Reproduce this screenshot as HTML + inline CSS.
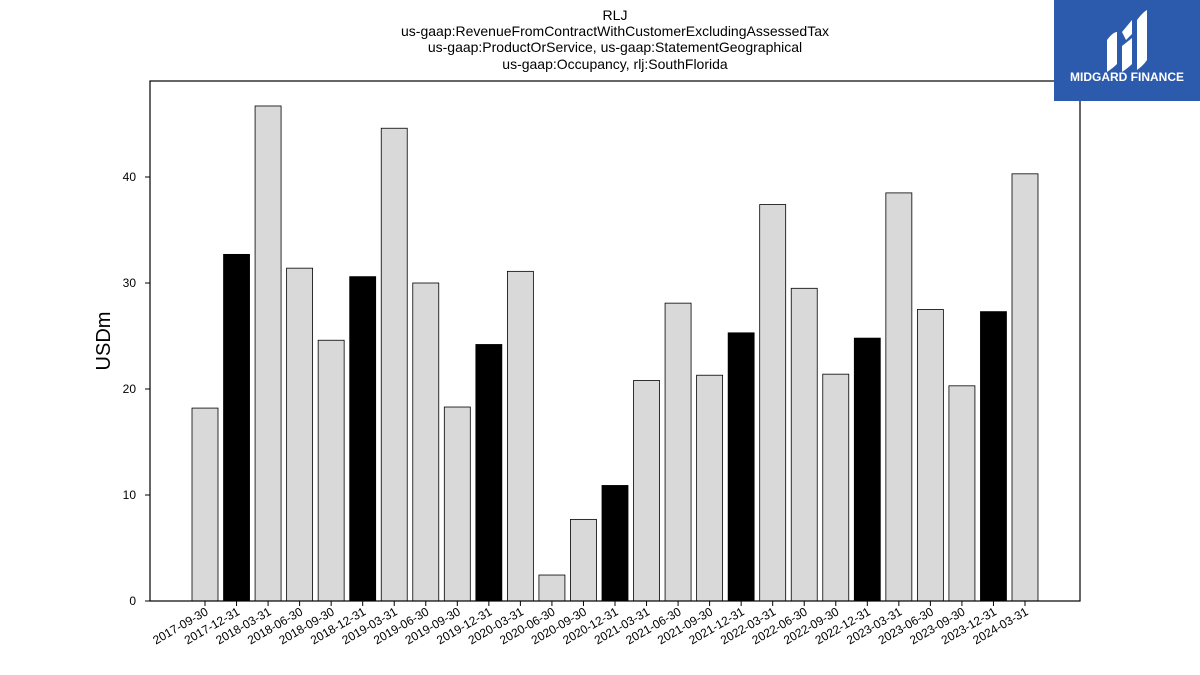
<!DOCTYPE html>
<html><head><meta charset="utf-8"><style>
body{margin:0;background:#fff;font-family:"Liberation Sans","DejaVu Sans",sans-serif;}
#wrap{position:relative;width:1200px;height:675px;overflow:hidden;}
</style></head><body>
<div id="wrap">
<svg id="chart" width="1200" height="675" xmlns="http://www.w3.org/2000/svg">
<g font-size="14" text-anchor="middle" fill="#000">
<text x="615" y="20">RLJ</text>
<text x="615" y="36">us-gaap:RevenueFromContractWithCustomerExcludingAssessedTax</text>
<text x="615" y="52">us-gaap:ProductOrService, us-gaap:StatementGeographical</text>
<text x="615" y="69">us-gaap:Occupancy, rlj:SouthFlorida</text>
</g>
<g id="bars"></g>
<g id="yticks"></g>
<g id="xticks"></g>
<rect x="150" y="81" width="930" height="520" fill="none" stroke="#000" stroke-width="1.2"/>
<text x="110" y="341" font-size="20" text-anchor="middle" transform="rotate(-90 110 341)">USDm</text>
<g>
<rect x="1054" y="0" width="146" height="101" fill="#2c5aac"/>
<path d="M1107 40 q6 -8 10 -8 v32 q-4 4 -10 8z M1122 32 l10 -12 v14 l-6 6z M1122 46 l10 -8 v26 q-4 4 -10 8z M1137 20 q6 -8 10 -10 v50 q-4 6 -10 10z" fill="#fff"/>
<text x="1127" y="81" font-size="12" font-weight="bold" fill="#fff" text-anchor="middle">MIDGARD FINANCE</text>
</g>
</svg>
</div>
<script>
const categories=["2017-09-30","2017-12-31","2018-03-31","2018-06-30","2018-09-30","2018-12-31","2019-03-31","2019-06-30","2019-09-30","2019-12-31","2020-03-31","2020-06-30","2020-09-30","2020-12-31","2021-03-31","2021-06-30","2021-09-30","2021-12-31","2022-03-31","2022-06-30","2022-09-30","2022-12-31","2023-03-31","2023-06-30","2023-09-30","2023-12-31","2024-03-31"];
const values=[18.2,32.7,46.7,31.4,24.6,30.6,44.6,30.0,18.3,24.2,31.1,2.45,7.7,10.9,20.8,28.1,21.3,25.3,37.4,29.5,21.4,24.8,38.5,27.5,20.3,27.3,40.3];
const yTicks=[0,10,20,30,40];
const NS="http://www.w3.org/2000/svg";
const x0=205,step=(1025-205)/26,bw=26;
function xs(i){return x0+i*step;}
function ys(v){return 601-v*10.6;}
const bars=document.getElementById('bars'),xt=document.getElementById('xticks'),yt=document.getElementById('yticks');
categories.forEach((c,i)=>{
 const r=document.createElementNS(NS,'rect');
 
 
 r.setAttribute('x',xs(i)-bw/2);r.setAttribute('y',ys(values[i]));
 r.setAttribute('width',bw);r.setAttribute('height',601-ys(values[i]));
 r.setAttribute('fill',c.endsWith('12-31')?'#000':'#d9d9d9');r.setAttribute('stroke','#000');r.setAttribute('stroke-width','0.8');
 bars.appendChild(r);
 const t=document.createElementNS(NS,'line');
 
 
 t.setAttribute('x1',xs(i));t.setAttribute('x2',xs(i));t.setAttribute('y1',601);t.setAttribute('y2',606);t.setAttribute('stroke','#000');
 xt.appendChild(t);
 const l=document.createElementNS(NS,'text');
 
 
 const lx=xs(i)+4,ly=614;
 l.setAttribute('x',lx);l.setAttribute('y',ly);l.setAttribute('font-size','12');l.setAttribute('text-anchor','end');
 l.setAttribute('transform','rotate(-30 '+lx+' '+ly+')');l.textContent=c;
 xt.appendChild(l);
});
yTicks.forEach(v=>{
 const t=document.createElementNS(NS,'line');
 
 
 t.setAttribute('x1',145);t.setAttribute('x2',150);t.setAttribute('y1',ys(v));t.setAttribute('y2',ys(v));t.setAttribute('stroke','#000');
 yt.appendChild(t);
 const l=document.createElementNS(NS,'text');
 
 
 l.setAttribute('x',136);l.setAttribute('y',ys(v)+4);l.setAttribute('font-size','12');l.setAttribute('text-anchor','end');
 l.textContent=v;yt.appendChild(l);
});
</script>
</body></html>
